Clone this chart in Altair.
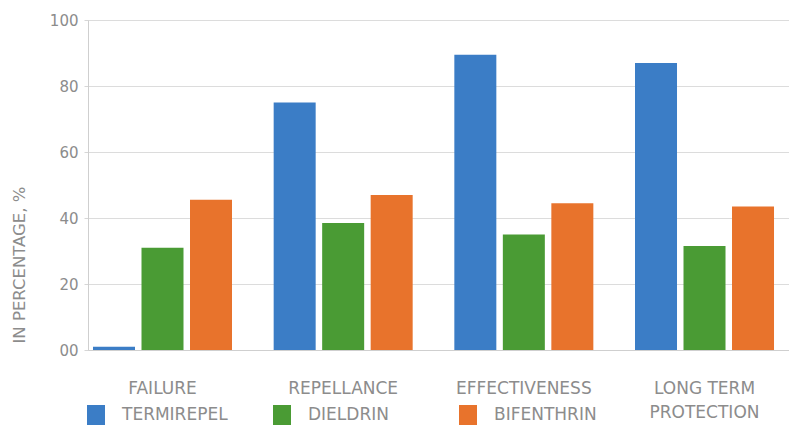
import altair as alt
import pandas as pd

categories = ["FAILURE", "REPELLANCE", "EFFECTIVENESS", "LONG TERM PROTECTION"]
series = ["TERMIREPEL", "DIELDRIN", "BIFENTHRIN"]
termirepel = [1, 75, 89.5, 87]
dieldrin = [31, 38.5, 35, 31.5]
bifenthrin = [45.5, 47, 44.5, 43.5]
colors = ["#3b7dc6", "#4a9b34", "#e8732c"]
y_ticks = [0, 20, 40, 60, 80, 100]

rows = []
for name, vals in zip(series, [termirepel, dieldrin, bifenthrin]):
    for c, v in zip(categories, vals):
        rows.append({"category": c, "series": name, "value": v})
df = pd.DataFrame(rows)

FONT = "DejaVu Sans"
GRAY = "#8c8c8c"

chart = alt.Chart(df).mark_bar().encode(
    x=alt.X(
        "category:N",
        sort=categories,
        scale=alt.Scale(paddingInner=0.2306, paddingOuter=0.0553, align=0.25, round=False),
        axis=alt.Axis(
            title=None, labelAngle=0, ticks=False, labelPadding=30,
            labelFontSize=17, labelColor=GRAY, labelFont=FONT,
            domainColor="#cfcfcf", grid=False, labelLineHeight=24,
            labelExpr="datum.label == 'LONG TERM PROTECTION' ? ['LONG TERM', 'PROTECTION'] : datum.label",
        ),
    ),
    xOffset=alt.XOffset("series:N", sort=series,
                        scale=alt.Scale(paddingInner=0.134, paddingOuter=0)),
    y=alt.Y(
        "value:Q",
        scale=alt.Scale(domain=[0, 100], nice=False),
        axis=alt.Axis(
            values=y_ticks, title="IN PERCENTAGE, %",
            labelExpr="datum.value == 0 ? '00' : datum.label",
            labelFontSize=15, labelColor=GRAY, labelFont=FONT, labelPadding=6,
            tickSize=4, tickColor="#d6d6d6", domainColor="#cfcfcf",
            gridColor="#dcdcdc", titleFont=FONT, titleFontSize=16.5,
            titleFontWeight="normal", titleColor=GRAY, titlePadding=22,
            titleAnchor="start", titleY=323,
        ),
    ),
    color=alt.Color(
        "series:N", sort=series,
        scale=alt.Scale(domain=series, range=colors),
        legend=alt.Legend(
            title=None, orient="none", legendX=-2, legendY=385,
            direction="horizontal", symbolType="M-0.9,-1H0.9V1H-0.9Z",
            symbolSize=400, symbolStrokeWidth=0, symbolOpacity=1,
            labelFontSize=17, labelColor=GRAY, labelFont=FONT,
            labelOffset=16, columnPadding=44, gridAlign="all", padding=0,
        ),
    ),
).properties(
    width=701, height=330,
    padding={"left": 80, "top": 12, "right": 0, "bottom": 76},
    autosize="none",
).configure_view(stroke=None).configure(background="white")

chart.save("out.html", embed_options={"renderer": "svg", "actions": False})
